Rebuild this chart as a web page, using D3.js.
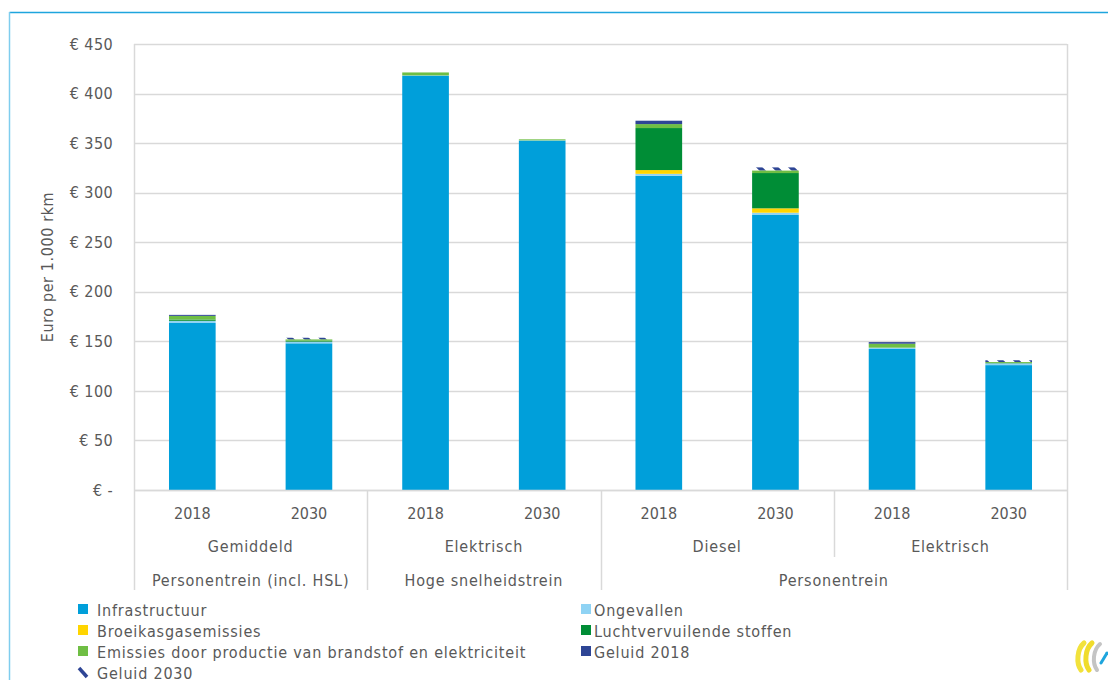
<!DOCTYPE html>
<html>
<head>
<meta charset="utf-8">
<script src="https://cdn.jsdelivr.net/npm/d3@7"></script>
<style>
  html, body { margin: 0; padding: 0; background: #fff; }
  svg { display: block; }
  text { font-family: "DejaVu Sans Condensed", "DejaVu Sans", sans-serif; font-stretch: condensed; fill: #595959; }
</style>
</head>
<body>
<svg id="chart" width="1108" height="680"></svg>
<script>
// Categories (one bar per year) and their two grouping levels
const years = ["2018", "2030", "2018", "2030", "2018", "2030", "2018", "2030"];
const level2 = [
  { label: "Gemiddeld", from: 0, to: 1 },
  { label: "Elektrisch", from: 2, to: 3 },
  { label: "Diesel", from: 4, to: 5 },
  { label: "Elektrisch", from: 6, to: 7 }
];
const level3 = [
  { label: "Personentrein (incl. HSL)", from: 0, to: 1 },
  { label: "Hoge snelheidstrein", from: 2, to: 3 },
  { label: "Personentrein", from: 4, to: 7 }
];

// Cost components, euro per 1.000 rkm
const infrastructuur      = [168.5, 148.0, 418.0, 352.5, 317.0, 277.5, 142.3, 126.0];
const ongevallen          = [2.0, 1.6, 0.3, 0.3, 2.0, 2.3, 1.3, 1.8];
const broeikasgas         = [0.2, 0.1, 0.0, 0.0, 3.8, 4.4, 0.0, 0.0];
const luchtvervuilend     = [1.3, 1.0, 0.0, 0.0, 42.4, 35.6, 0.0, 0.3];
const emissiesProductie   = [3.7, 1.4, 3.0, 1.0, 4.0, 2.7, 4.0, 1.0];
const geluid2018          = [1.0, 0.0, 0.0, 0.0, 3.4, 0.0, 1.6, 0.0];
const geluid2030          = [0.0, 1.5, 0.0, 0.0, 0.0, 3.0, 0.0, 1.8];

const yTicks = [0, 50, 100, 150, 200, 250, 300, 350, 400, 450];
const yTickLabels = ["€ -", "€ 50", "€ 100", "€ 150", "€ 200", "€ 250", "€ 300", "€ 350", "€ 400", "€ 450"];

const series = [
  { key: "Infrastructuur", values: infrastructuur, fill: "#009fda" },
  { key: "Ongevallen", values: ongevallen, fill: "#8fd3f4" },
  { key: "Broeikasgasemissies", values: broeikasgas, fill: "#ffd500" },
  { key: "Luchtvervuilende stoffen", values: luchtvervuilend, fill: "#008d36" },
  { key: "Emissies door productie van brandstof en elektriciteit", values: emissiesProductie, fill: "#6fbe44" },
  { key: "Geluid 2018", values: geluid2018, fill: "#2e4595" },
  { key: "Geluid 2030", values: geluid2030, fill: "url(#hatch)" }
];

const FS = 16;          // base font size
const WORD_SPACING = 0.8;

const svg = d3.select("#chart");
const plot = { left: 134, right: 1067, top: 44, bottom: 490 };

// hatch used for the 2030 noise component
const defs = svg.append("defs");
const pat = defs.append("pattern")
  .attr("id", "hatch").attr("patternUnits", "userSpaceOnUse")
  .attr("width", 16).attr("height", 16);
pat.append("rect").attr("width", 16).attr("height", 16).attr("fill", "#fff");
pat.append("path").attr("d", "M-4,-4 L20,20 M-4,12 L4,20 M12,-4 L20,4")
  .attr("stroke", "#2e4595").attr("stroke-width", 4.5);

// outer frame lines
svg.append("line").attr("x1", 9.5).attr("x2", 1108).attr("y1", 12.5).attr("y2", 12.5)
  .attr("stroke", "#1ea5dd").attr("stroke-width", 1.5);
svg.append("line").attr("x1", 9.5).attr("x2", 9.5).attr("y1", 12).attr("y2", 680)
  .attr("stroke", "#7fcdee").attr("stroke-width", 1.5);

const x = d3.scaleBand()
  .domain(d3.range(years.length))
  .range([plot.left, plot.right])
  .paddingInner(0.6).paddingOuter(0.3);
const y = d3.scaleLinear().domain([0, 450]).range([plot.bottom, plot.top]);

// gridlines and plot frame
const grid = svg.append("g");
grid.selectAll("line").data(yTicks).join("line")
  .attr("x1", plot.left).attr("x2", plot.right)
  .attr("y1", d => Math.round(y(d)) + 0.5).attr("y2", d => Math.round(y(d)) + 0.5)
  .attr("stroke", "#d9d9d9").attr("stroke-width", 1.5);
grid.append("line").attr("x1", plot.left + 0.5).attr("x2", plot.left + 0.5)
  .attr("y1", plot.top).attr("y2", plot.bottom).attr("stroke", "#d9d9d9").attr("stroke-width", 1.5);
grid.append("line").attr("x1", plot.right + 0.5).attr("x2", plot.right + 0.5)
  .attr("y1", plot.top).attr("y2", plot.bottom).attr("stroke", "#d9d9d9").attr("stroke-width", 1.5);

// y axis labels
const yAxis = d3.axisLeft(y).tickValues(yTicks).tickSize(0).tickPadding(0)
  .tickFormat((d, i) => yTickLabels[i]);
const yg = svg.append("g").attr("transform", `translate(113,0)`).call(yAxis);
yg.select(".domain").remove();
yg.selectAll("text").attr("font-size", FS).attr("fill", "#595959")
  .attr("letter-spacing", 0.4)
  .style("font-family", '"DejaVu Sans Condensed", "DejaVu Sans", sans-serif');

svg.append("text").attr("transform", "translate(53,267) rotate(-90)")
  .attr("text-anchor", "middle").attr("font-size", FS).attr("letter-spacing", 0.6)
  .text("Euro per 1.000 rkm");

// stacked bars
const rows = years.map((yr, i) => {
  const r = { i };
  series.forEach(s => r[s.key] = s.values[i]);
  return r;
});
const stack = d3.stack().keys(series.map(s => s.key))(rows);
svg.append("g").selectAll("g").data(stack).join("g")
  .attr("fill", (d, k) => series[k].fill)
  .selectAll("rect").data(d => d).join("rect")
  .attr("x", d => x(d.data.i))
  .attr("width", x.bandwidth())
  .attr("y", d => y(d[1]))
  .attr("height", d => Math.max(0, y(d[0]) - y(d[1])));

// category axis: years, level 2 and level 3 groups
const step = x.step();
const edge = i => plot.left + i * step;
svg.append("line").attr("x1", plot.left).attr("x2", plot.right)
  .attr("y1", plot.bottom + 0.5).attr("y2", plot.bottom + 0.5)
  .attr("stroke", "#d9d9d9").attr("stroke-width", 1.5);

svg.append("g").selectAll("text").data(years).join("text")
  .attr("x", (d, i) => x(i) + x.bandwidth() / 2).attr("y", 518.5)
  .attr("text-anchor", "middle").attr("font-size", FS).text(d => d);

svg.append("g").selectAll("text").data(level2).join("text")
  .attr("x", d => (edge(d.from) + edge(d.to + 1)) / 2).attr("y", 551.5)
  .attr("text-anchor", "middle").attr("font-size", FS).attr("letter-spacing", WORD_SPACING)
  .text(d => d.label);

svg.append("g").selectAll("text").data(level3).join("text")
  .attr("x", d => (edge(d.from) + edge(d.to + 1)) / 2).attr("y", 585.5)
  .attr("text-anchor", "middle").attr("font-size", FS).attr("letter-spacing", WORD_SPACING)
  .text(d => d.label);

// separators: long ones bound level 3 groups, short ones bound level 2 groups
const longSep = new Set();
level3.forEach(g => { longSep.add(g.from); longSep.add(g.to + 1); });
const shortSep = new Set();
level2.forEach(g => { shortSep.add(g.from); shortSep.add(g.to + 1); });
const seps = Array.from(new Set([...longSep, ...shortSep])).map(k => ({
  x: edge(k), long: longSep.has(k)
}));
svg.append("g").selectAll("line").data(seps).join("line")
  .attr("x1", d => Math.round(d.x) + 0.5).attr("x2", d => Math.round(d.x) + 0.5)
  .attr("y1", plot.bottom).attr("y2", d => d.long ? 590 : 557)
  .attr("stroke", "#d9d9d9").attr("stroke-width", 1.5);

// legend, two columns
const legendCols = [78, 581];
const legend = svg.append("g").selectAll("g").data(series).join("g")
  .attr("transform", (d, i) => `translate(${legendCols[i % 2]},${604 + Math.floor(i / 2) * 21})`);
legend.each(function (d, i) {
  const g = d3.select(this);
  if (d.key === "Geluid 2030") {
    g.append("path").attr("d", "M1,1 L9,10").attr("stroke", "#2e4595")
      .attr("stroke-width", 3.5);
  } else {
    g.append("rect").attr("width", 10).attr("height", 10).attr("fill", d.fill);
  }
  g.append("text").attr("x", i % 2 === 0 ? 19 : 13)
    .attr("y", 12).attr("font-size", FS).attr("letter-spacing", WORD_SPACING)
    .text(d.key);
});

// small logo mark in the corner
const logo = svg.append("g").attr("transform", "translate(1075,641)")
  .attr("fill", "none").attr("stroke-linecap", "round");
logo.append("path").attr("d", "M9,2 C2,8 1,22 6,29").attr("stroke", "#f2e23c").attr("stroke-width", 5);
logo.append("path").attr("d", "M17,2 C10,8 9,22 14,29").attr("stroke", "#f0dc2c").attr("stroke-width", 5);
logo.append("path").attr("d", "M25,3 C18,9 17,22 22,29").attr("stroke", "#c4c4c4").attr("stroke-width", 4);
logo.append("path").attr("d", "M26,22 L32,12").attr("stroke", "#1ea5dd").attr("stroke-width", 3);
</script>
</body>
</html>
